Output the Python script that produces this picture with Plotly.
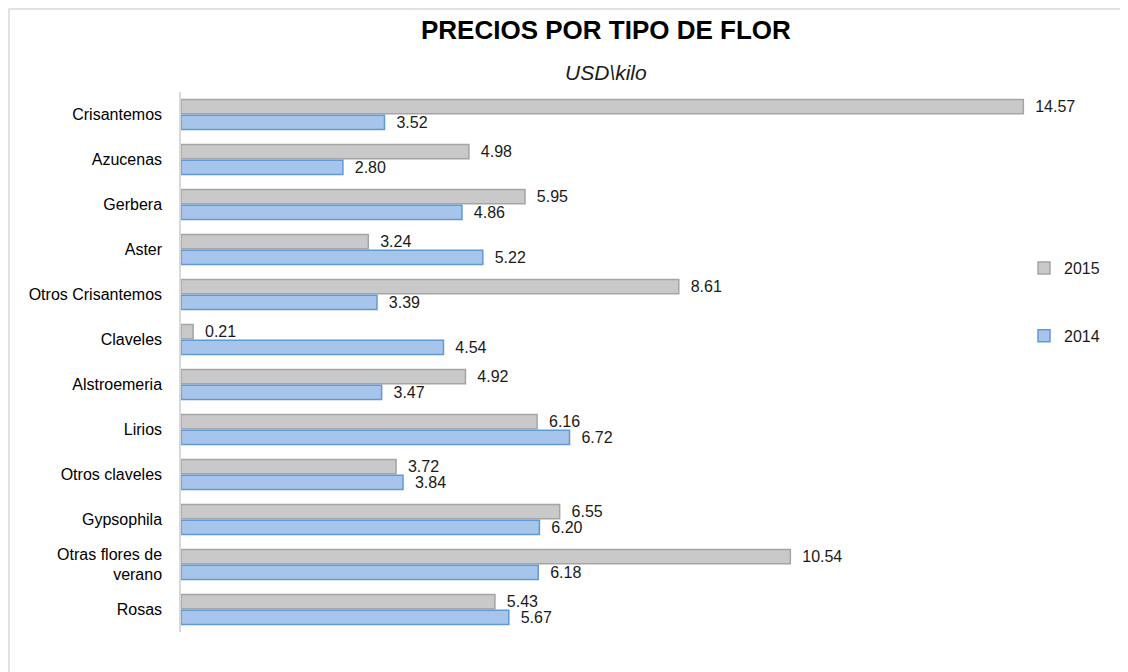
import plotly.graph_objects as go

# Data
flores = ["Crisantemos", "Azucenas", "Gerbera", "Aster", "Otros Crisantemos",
          "Claveles", "Alstroemeria", "Lirios", "Otros claveles", "Gypsophila",
          "Otras flores de<br>verano", "Rosas"]
precio_2015 = [14.57, 4.98, 5.95, 3.24, 8.61, 0.21, 4.92, 6.16, 3.72, 6.55, 10.54, 5.43]
precio_2014 = [3.52, 2.80, 4.86, 5.22, 3.39, 4.54, 3.47, 6.72, 3.84, 6.20, 6.18, 5.67]

# page body adds an 8px margin, so the figure is drawn 8px smaller and shifted
OFF = 8
W, H = 1128 - OFF, 672 - OFF
L, R, T, B = 181 - OFF, 22, 92 - OFF, 40
pw, ph = W - L - R, H - T - B


def px_x(x):
    return (x - OFF - L) / pw


def px_y(y):
    return (H - B - (y - OFF)) / ph


fig = go.Figure()

fig.add_trace(go.Bar(
    y=flores, x=precio_2015, orientation="h", name="2015", legendgroup="a",
    marker=dict(color="#c9c9c9", line=dict(color="#a5a5a5", width=1.5)),
    texttemplate="\u00a0\u00a0%{x:.2f}", textposition="outside", constraintext="none",
    textfont=dict(size=16, color="#1a1a1a"), cliponaxis=False,
))
fig.add_trace(go.Bar(
    y=flores, x=precio_2014, orientation="h", name="2014", legendgroup="b",
    marker=dict(color="#a7c5ea", line=dict(color="#5f9ad8", width=1.5)),
    texttemplate="\u00a0\u00a0%{x:.2f}", textposition="outside", constraintext="none",
    textfont=dict(size=16, color="#1a1a1a"), cliponaxis=False,
))

# light frame around the chart
fig.add_shape(type="rect", xref="paper", yref="paper",
              x0=px_x(OFF + 1), x1=1.2, y0=-0.2, y1=px_y(OFF + 1),
              line=dict(color="#d9d9d9", width=1.5), fillcolor="rgba(0,0,0,0)")

fig.add_annotation(text="<b>PRECIOS POR TIPO DE FLOR</b>", xref="paper", yref="paper",
                   x=px_x(606), y=px_y(30), showarrow=False,
                   font=dict(size=26, color="#000000"), xanchor="center", yanchor="middle")
fig.add_annotation(text="<i>USD\\kilo</i>", xref="paper", yref="paper",
                   x=px_x(606), y=px_y(72), showarrow=False,
                   font=dict(size=21, color="#1a1a1a"), xanchor="center", yanchor="middle")

fig.update_layout(
    width=W, height=H,
    margin=dict(l=L, r=R, t=T, b=B),
    paper_bgcolor="white", plot_bgcolor="white",
    font=dict(family="Liberation Sans, Arial, sans-serif", size=16, color="#000000"),
    barmode="group", bargap=0.3, bargroupgap=0.1,
    showlegend=True,
    legend=dict(x=px_x(1024), y=px_y(302), xanchor="left", yanchor="middle",
                traceorder="grouped", tracegroupgap=44, itemwidth=30,
                font=dict(size=16, color="#1a1a1a"), bgcolor="rgba(0,0,0,0)"),
)
fig.update_xaxes(range=[0, 16], visible=False, showgrid=False, zeroline=False)
fig.update_yaxes(autorange="reversed", showgrid=False, showline=True, linecolor="#d9d9d9",
                 linewidth=1.5, ticks="", ticklabelstandoff=14,
                 tickfont=dict(size=16, color="#000000"))

fig.write_html("out.html")
